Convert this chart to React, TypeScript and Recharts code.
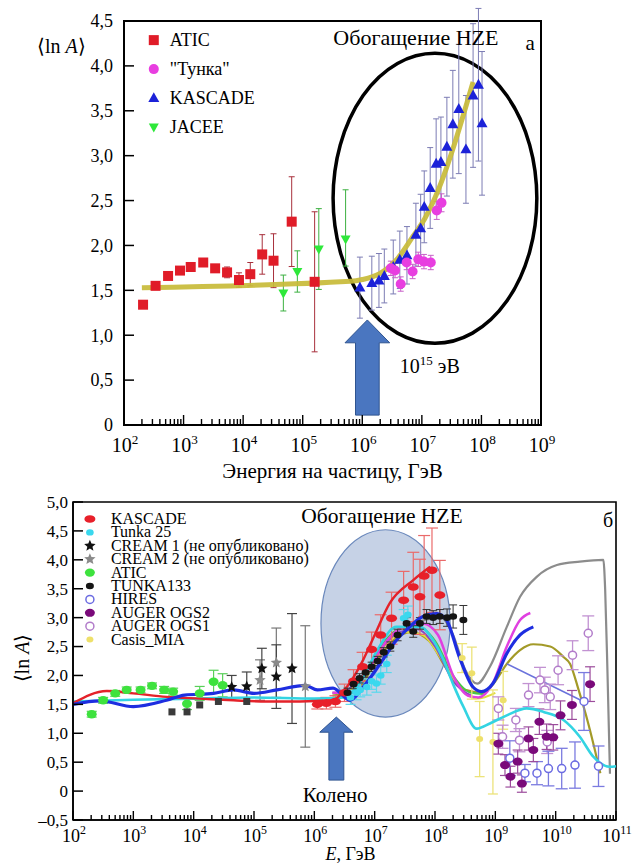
import React from 'react';
import {
  ComposedChart, Scatter, Line, XAxis, YAxis, ErrorBar, ReferenceArea, ReferenceDot,
} from 'recharts';

const SERIF = '"Liberation Serif", "Times New Roman", serif';

type Err = number | [number, number];
type Row = [number, number, Err?];

// ---------- panel а : lg(E, ГэВ), <ln A>, error ----------
const aticA: Row[] = [
  [2.32, 1.34, 0.03], [2.53, 1.55, 0.04], [2.74, 1.66, 0.03], [2.94, 1.72, 0.03],
  [3.12, 1.76, 0.03], [3.33, 1.81, 0.03], [3.53, 1.745, 0.04], [3.73, 1.7, 0.06],
  [3.93, 1.615, 0.08], [4.12, 1.68, 0.13], [4.32, 1.9, 0.22], [4.51, 1.83, 0.3],
  [4.815, 2.265, 0.5], [5.2, 1.595, 0.78],
];
const jaceeA: Row[] = [
  [4.675, 1.47, 0.2], [4.91, 1.71, 0.23], [5.27, 1.96, 0.45], [5.72, 2.07, [0.3, 0.55]],
];
const tunkaA: Row[] = [
  [6.48, 1.745, 0.08], [6.55, 1.72, 0.08], [6.645, 1.57, 0.08], [6.745, 1.81, 0.08],
  [6.845, 1.71, 0.08], [6.94, 1.845, 0.08], [7.035, 1.82, 0.08], [7.15, 1.81, 0.08],
  [7.25, 2.39, 0.1], [7.33, 2.475, 0.1],
];
const kascadeA: Row[] = [
  [5.96, 1.53, 0.34], [6.16, 1.58, 0.3], [6.28, 1.61, 0.3], [6.37, 1.66, 0.3],
  [6.52, 1.76, 0.3], [6.63, 1.84, 0.32], [6.75, 1.89, 0.32], [6.9, 2.12, 0.35],
  [6.98, 2.19, 0.38], [7.04, 2.43, 0.4], [7.14, 2.64, 0.45], [7.24, 2.91, 0.5],
  [7.32, 2.93, 0.5], [7.42, 3.1, 0.55], [7.52, 3.35, 0.6], [7.62, 3.52, 0.72],
  [7.74, 3.07, 0.6], [7.86, 3.67, 0.8], [7.95, 3.79, 0.85], [8.01, 3.36, 0.8],
];
const trendA_lgE = [2.3, 5.8, 6.0, 6.3, 6.6, 6.85, 7.05, 7.2, 7.86];
const trendA_lnA = [1.53, 1.6, 1.62, 1.69, 1.86, 2.1, 2.3, 2.5, 3.82];

// ---------- panel б ----------
const kascadeB: Row[] = [
  [6.05, 1.5, 0.08], [6.2, 1.52, 0.1], [6.35, 1.55, 0.1], [6.5, 1.7, 0.15],
  [6.65, 1.9, 0.2], [6.8, 2.15, 0.25], [6.95, 2.45, 0.3], [7.1, 2.7, 0.35],
  [7.28, 2.99, 0.45], [7.48, 3.3, 0.5], [7.64, 3.53, 0.6], [7.75, 3.36, 0.65],
  [7.82, 3.72, 0.7], [7.95, 3.82, 0.73], [8.08, 3.39, 0.6],
];
const tunka25B: Row[] = [
  [6.6, 1.62, 0.12], [6.7, 1.7, 0.12], [6.76, 1.75, 0.12], [6.87, 1.8, 0.14],
  [6.95, 1.9, 0.14], [7.03, 1.86, 0.15], [7.1, 2.0, 0.15], [7.2, 2.2, 0.15],
  [7.48, 2.99, 0.15], [7.55, 3.05, 0.15],
];
const cream1B: Row[] = [
  [4.63, 1.8, 0.2], [4.88, 1.81, 0.25], [5.13, 2.12, 0.35], [5.37, 1.98, 0.55], [5.63, 2.12, 0.95],
];
const cream2B: Row[] = [
  [5.1, 1.92, 0.35], [5.37, 2.22, 0.6], [5.85, 1.81, 1.05],
];
const directB: Row[] = [
  [3.64, 1.37, 0.04], [3.89, 1.37, 0.05], [4.1, 1.49, 0.06], [4.41, 1.55, 0.06], [4.88, 1.55, 0.06],
];
const aticB: Row[] = [
  [2.31, 1.33, 0.05], [2.5, 1.57, 0.05], [2.7, 1.69, 0.05], [2.89, 1.75, 0.05],
  [3.12, 1.75, 0.05], [3.31, 1.82, 0.05], [3.51, 1.75, 0.06], [3.66, 1.72, 0.06],
  [3.89, 1.51, 0.1], [4.1, 1.69, 0.12], [4.33, 1.89, 0.2], [4.48, 1.83, 0.2],
];
const tunka133B: Row[] = [
  [6.55, 1.7, 0.08], [6.65, 1.85, 0.08], [6.75, 1.95, 0.08], [6.85, 2.05, 0.08],
  [6.95, 2.15, 0.08], [7.05, 2.25, 0.08], [7.15, 2.4, 0.08], [7.26, 2.5, 0.08],
  [7.38, 2.7, 0.1], [7.53, 2.9, 0.1], [7.64, 2.76, 0.1], [7.75, 2.9, 0.1],
  [7.86, 3.02, 0.12], [7.97, 3.0, 0.12], [8.08, 3.02, 0.12], [8.2, 3.0, 0.15],
  [8.3, 3.02, 0.2], [8.47, 2.96, 0.25],
];
const hiresB: Row[] = [
  [9.24, 0.57, 0.3], [9.49, 0.31, 0.15], [9.69, 0.31, 0.2], [9.88, 0.39, 0.3],
  [10.1, 0.39, 0.35], [10.32, 0.45, 0.4], [10.47, 1.55, 0.5], [10.71, 0.43, 0.35],
];
const ogs2B: Row[] = [
  [9.05, 0.82, 0.18], [9.16, 0.45, 0.18], [9.25, 0.25, 0.18], [9.37, 0.51, 0.2],
  [9.44, 0.13, 0.15], [9.55, 0.91, 0.2], [9.63, 0.71, 0.2], [9.73, 1.2, 0.22],
  [9.85, 0.94, 0.22], [9.96, 0.93, 0.22], [10.08, 1.31, 0.25], [10.27, 1.49, 0.25],
  [10.57, 1.85, 0.3],
];
const ogs1B: Row[] = [
  [9.05, 1.43, 0.2], [9.12, 0.94, 0.2], [9.34, 1.23, 0.2], [9.4, 0.88, 0.2],
  [9.55, 1.66, 0.2], [9.74, 1.92, 0.22], [9.82, 1.75, 0.22], [9.91, 1.63, 0.22],
  [9.86, 0.85, 0.2], [10.04, 2.09, 0.25], [10.28, 2.35, 0.25], [10.54, 2.73, 0.3],
];
const casisB: Row[] = [
  [8.45, 2.3, 0.25], [8.61, 2.04, 0.45], [8.74, 0.9, 0.65], [8.96, 0.85, 0.9], [9.13, 1.57, 0.5],
];

const redB_lgE = [2, 2.56, 3, 3.55, 4.1, 4.66, 5.2, 5.76, 6.3, 6.5, 6.81, 7.0, 7.25, 7.64, 7.92];
const redB_lnA = [1.52, 1.73, 1.69, 1.63, 1.6, 1.57, 1.55, 1.55, 1.57, 1.75, 2.27, 2.7, 3.25, 3.65, 3.88];
const blueB_lgE = [2, 2.45, 3, 3.55, 3.85, 4.33, 4.66, 5.0, 5.38, 5.85, 6.05, 6.31, 6.59, 6.81, 7.09, 7.36, 7.53, 7.8, 8.03, 8.19, 8.41, 8.63, 8.77, 8.96, 9.19, 9.41, 9.63];
const blueB_lnA = [1.5, 1.56, 1.46, 1.57, 1.66, 1.69, 1.75, 1.69, 1.75, 1.83, 1.75, 1.78, 1.57, 1.8, 2.2, 2.61, 2.79, 3.02, 3.07, 2.96, 2.3, 1.8, 1.72, 1.86, 2.38, 2.7, 2.84];
const cyanB_lgE = [2, 3, 4, 5, 6, 6.5, 6.8, 7.05, 7.36, 7.75, 7.97, 8.14, 8.3, 8.47, 8.69, 8.91, 9.19, 9.52, 9.8, 10.13, 10.4, 10.62, 10.9, 11];
const cyanB_lnA = [1.55, 1.58, 1.6, 1.62, 1.6, 1.62, 1.95, 2.45, 2.84, 2.84, 2.61, 2.27, 1.85, 1.46, 1.08, 1.17, 1.31, 1.43, 1.37, 1.23, 0.94, 0.6, 0.42, 0.43];
const magentaB_lgE = [6.3, 6.6, 6.9, 7.2, 7.5, 7.8, 8.05, 8.3, 8.55, 8.72, 8.95, 9.19, 9.41, 9.58];
const magentaB_lnA = [1.7, 1.7, 2.1, 2.6, 2.85, 2.9, 2.7, 2.0, 1.65, 1.62, 1.85, 2.5, 2.96, 3.08];
const grayB_lgE = [6.3, 6.6, 6.9, 7.2, 7.5, 7.8, 8.1, 8.3, 8.5, 8.7, 8.91, 9.19, 9.41, 9.69, 10.02, 10.4, 10.79, 10.82, 10.86, 10.9];
const grayB_lnA = [1.7, 1.72, 2.15, 2.6, 2.85, 2.95, 3.0, 2.7, 2.1, 1.86, 2.15, 2.84, 3.36, 3.71, 3.91, 3.97, 4.0, 3.5, 2.0, 0.3];
const oliveB_lgE = [6.3, 6.7, 7.0, 7.3, 7.6, 7.9, 8.2, 8.5, 8.8, 9.0, 9.19, 9.41, 9.63, 9.91, 10.13, 10.24, 10.38, 10.54, 10.65, 10.74];
const oliveB_lnA = [1.65, 1.75, 2.2, 2.6, 2.75, 2.6, 2.1, 1.75, 1.7, 1.9, 2.2, 2.44, 2.54, 2.5, 2.32, 2.2, 1.75, 1.17, 0.71, 0.31];
const greenB_lgE = [6.4, 6.8, 7.1, 7.4, 7.7, 8.0, 8.3, 8.6, 8.8];
const greenB_lnA = [1.6, 2.0, 2.5, 2.8, 2.85, 2.6, 2.0, 1.7, 1.68];
const yellowB_lgE = [6.5, 6.9, 7.2, 7.5, 7.8, 8.1, 8.4, 8.7, 9.0];
const yellowB_lnA = [1.65, 2.1, 2.55, 2.75, 2.7, 2.3, 1.8, 1.6, 1.7];
const purpleB_lgE = [6.4, 6.8, 7.1, 7.4, 7.7, 8.0, 8.3, 8.6];
const purpleB_lnA = [1.62, 2.0, 2.45, 2.75, 2.8, 2.5, 1.9, 1.65];
const hiresFit_lgE = [9.19, 10.46];
const hiresFit_lnA = [2.2, 1.55];

const pts = (rows: Row[]) => rows.map(([x, y, err]) => ({ x, y, err: err ?? 0 }));
const curve = (xs: number[], ys: number[]) => xs.map((x, i) => ({ x, y: ys[i] }));

// lg-axis ticks: decades plus 2..9 sub-ticks
const logTicks = (from: number, to: number) => {
  const t: number[] = [];
  for (let n = from; n <= to; n++) {
    t.push(n);
    if (n < to) for (let k = 2; k <= 9; k++) t.push(n + Math.log10(k));
  }
  return t;
};
const TICKS_A_X = logTicks(2, 9);
const TICKS_B_X = logTicks(2, 11);
const TICKS_A_Y = [0, 0.5, 1, 1.5, 2, 2.5, 3, 3.5, 4, 4.5];
const TICKS_B_Y = [-0.5, 0, 0.5, 1, 1.5, 2, 2.5, 3, 3.5, 4, 4.5, 5];

const fmtY = (v: number) =>
  v === 0 ? '0' : (v < 0 ? '\u2013' : '') + Math.abs(v).toFixed(1).replace('.', ',');

// ---------- markers ----------
type P = { cx?: number; cy?: number };
const square = (fill: string, s: number) => ({ cx = 0, cy = 0 }: P) => (
  <rect x={cx - s / 2} y={cy - s / 2} width={s} height={s} fill={fill} />
);
const blob = (fill: string, rx: number, ry: number, stroke = 'none') => ({ cx = 0, cy = 0 }: P) => (
  <ellipse cx={cx} cy={cy} rx={rx} ry={ry} fill={fill} stroke={stroke} />
);
const ring = (stroke: string, r: number) => ({ cx = 0, cy = 0 }: P) => (
  <circle cx={cx} cy={cy} r={r} fill="#fff" stroke={stroke} strokeWidth={1.5} />
);
const tri = (fill: string, s: number, down = false) => ({ cx = 0, cy = 0 }: P) => {
  const d = down ? -1 : 1;
  const h = s * 0.9;
  return (
    <polygon
      points={`${cx},${cy - d * h * 0.6} ${cx - s / 2},${cy + d * h * 0.4} ${cx + s / 2},${cy + d * h * 0.4}`}
      fill={fill}
    />
  );
};
const star = (fill: string, r: number) => ({ cx = 0, cy = 0 }: P) => {
  const p: string[] = [];
  for (let i = 0; i < 10; i++) {
    const a = -Math.PI / 2 + (i * Math.PI) / 5;
    const rr = i % 2 === 0 ? r : r * 0.45;
    p.push(`${cx + rr * Math.cos(a)},${cy + rr * Math.sin(a)}`);
  }
  return <polygon points={p.join(' ')} fill={fill} />;
};

const mkAticA = square('#e01c28', 10);
const mkTunkaA = blob('#e83ee0', 5, 5);
const mkKascadeA = tri('#1c22d8', 11);
const mkJaceeA = tri('#2ee83a', 10, true);

const mkKascadeB = blob('#e8202a', 5.5, 3.8);
const mkTunka25B = blob('#3ad8ee', 3.8, 3.2);
const mkCream1B = star('#111', 6);
const mkCream2B = star('#8a8a8a', 6);
const mkAticB = blob('#3ee23e', 5, 4.2);
const mkTunka133B = blob('#151515', 4, 3.3);
const mkHiresB = ring('#6c6ce2', 4);
const mkOgs2B = blob('#7a0a7a', 5, 4);
const mkOgs1B = ring('#b27cca', 4);
const mkCasisB = blob('#eee06a', 3.5, 3);
const mkDirectB = square('#3a3a3a', 7);

const LEGEND_A = [
  { name: 'ATIC', mark: mkAticA },
  { name: '"Тунка"', mark: mkTunkaA },
  { name: 'KASCADE', mark: mkKascadeA },
  { name: 'JACEE', mark: mkJaceeA },
];
const LEGEND_B = [
  { name: 'KASCADE', mark: mkKascadeB },
  { name: 'Tunka 25', mark: mkTunka25B },
  { name: 'CREAM 1 (не опубликовано)', mark: mkCream1B },
  { name: 'CREAM 2 (не опубликовано)', mark: mkCream2B },
  { name: 'ATIC', mark: mkAticB },
  { name: 'TUNKA133', mark: mkTunka133B },
  { name: 'HIRES', mark: mkHiresB },
  { name: 'AUGER OGS2', mark: mkOgs2B },
  { name: 'AUGER OGS1', mark: mkOgs1B },
  { name: 'Casis_MIA', mark: mkCasisB },
];

// ---------- axis pieces ----------
const XTick = (props: any) => {
  const { x, y, payload, fs, base, major, minor } = props;
  const v = payload.value as number;
  const isMajor = Math.abs(v - Math.round(v)) < 1e-6;
  return (
    <g>
      <line x1={x} x2={x} y1={y} y2={y - (isMajor ? major : minor)} stroke="#000" strokeWidth={1.4} />
      {isMajor && (
        <text x={x + 1} y={y + base} textAnchor="middle" fontFamily={SERIF} fontSize={fs} fill="#000">
          10<tspan dy={-fs * 0.42} fontSize={fs * 0.66}>{Math.round(v)}</tspan>
        </text>
      )}
    </g>
  );
};

const YTick = (props: any) => {
  const { x, y, payload, fs, gap } = props;
  return (
    <g>
      <line x1={x} x2={x + 10} y1={y} y2={y} stroke="#000" strokeWidth={1.5} />
      <text x={x - gap} y={y} dy="0.35em" textAnchor="end" fontFamily={SERIF} fontSize={fs} fill="#000">
        {fmtY(payload.value)}
      </text>
    </g>
  );
};

const YLabelA = (p: any) => {
  const vb = p.viewBox || { x: 0, y: 0 };
  return (
    <text x={vb.x + 37} y={vb.y + 32} fontFamily={SERIF} fontSize={20} fill="#000">
      {'\u27E8ln '}<tspan fontStyle="italic">A</tspan>{'\u27E9'}
    </text>
  );
};

const YLabelB = (p: any) => {
  const vb = p.viewBox || { x: 0, y: 0, height: 0 };
  const cx = vb.x + 22;
  const cy = vb.y + vb.height / 2 - 3;
  return (
    <text x={cx} y={cy} dy="0.35em" textAnchor="middle" transform={`rotate(-90, ${cx}, ${cy})`}
      fontFamily={SERIF} fontSize={20} fill="#000">
      {'\u27E8ln '}<tspan fontStyle="italic">A</tspan>{'\u27E9'}
    </text>
  );
};

const XLabelB = (p: any) => {
  const vb = p.viewBox || { x: 0, y: 0, width: 0, height: 0 };
  return (
    <text x={vb.x + vb.width / 2 + 6} y={vb.y + vb.height - 3} textAnchor="middle"
      fontFamily={SERIF} fontSize={18} fill="#000">
      <tspan fontStyle="italic">E</tspan>, ГэВ
    </text>
  );
};

// ---------- annotation shapes ----------
const ellipseShape = (stroke: string, sw: number, fill: string) => (p: any) => (
  <ellipse cx={p.x + p.width / 2} cy={p.y + p.height / 2} rx={p.width / 2} ry={p.height / 2}
    fill={fill} stroke={stroke} strokeWidth={sw} />
);

const arrowShape = (shaft: number, head: number) => (p: any) => {
  const { x, y, width: w, height: h } = p;
  const cx = x + w / 2;
  const sw = (w * shaft) / 2;
  const hy = y + h * head;
  const outline = [
    [cx, y], [x + w, hy], [cx + sw, hy], [cx + sw, y + h],
    [cx - sw, y + h], [cx - sw, hy], [x, hy],
  ].map((q) => q.join(',')).join(' ');
  return <polygon points={outline} fill="#4a76c0" stroke="#2f5490" strokeWidth={1} />;
};

const textShape = (content: React.ReactNode, fs: number, anchor = 'middle') => (p: any) => (
  <text x={p.cx} y={p.cy} textAnchor={anchor} fontFamily={SERIF} fontSize={fs} fill="#000">
    {content}
  </text>
);

const legendShape = (items: typeof LEGEND_A, step: number, dx: number, dy: number, fs: number) => (p: any) => (
  <g>
    {items.map((it, i) => (
      <g key={it.name}>
        {it.mark({ cx: p.cx, cy: p.cy + i * step })}
        <text x={p.cx + dx} y={p.cy + i * step + dy} fontFamily={SERIF} fontSize={fs} fill="#000">
          {it.name}
        </text>
      </g>
    ))}
  </g>
);

const PanelA = () => (
  <ComposedChart width={632} height={490} margin={{ top: 21, right: 91, bottom: 0, left: 0 }}>
    <XAxis dataKey="x" type="number" domain={[2, 9]} allowDataOverflow ticks={TICKS_A_X} interval={0}
      tickSize={0} tickMargin={0} tickLine={false} height={65}
      axisLine={{ stroke: '#000', strokeWidth: 2 }}
      tick={(p: any) => <XTick {...p} fs={20} base={27} major={10} minor={6} />}
      label={{ value: 'Энергия на частицу, ГэВ', position: 'insideBottom', offset: 12, fontSize: 21, fill: '#000', fontFamily: SERIF }}
    />
    <YAxis dataKey="y" type="number" domain={[0, 4.5]} allowDataOverflow ticks={TICKS_A_Y} interval={0}
      tickSize={0} tickMargin={0} tickLine={false} width={124}
      axisLine={{ stroke: '#000', strokeWidth: 2 }}
      tick={(p: any) => <YTick {...p} fs={18} gap={11} />}
      label={<YLabelA />}
    />
    <ReferenceArea x1={2} x2={9} y1={0} y2={4.5} fill="none" fillOpacity={0} stroke="#000" strokeWidth={2} />
    <ReferenceArea x1={5.51} x2={8.93} y1={0.91} y2={4.14} shape={ellipseShape('#000', 3.5, 'none')} />

    <Scatter data={pts(aticA)} shape={mkAticA} isAnimationActive={false}>
      <ErrorBar dataKey="err" direction="y" width={3} stroke="#a8303c" strokeWidth={1} />
    </Scatter>
    <Scatter data={pts(jaceeA)} shape={mkJaceeA} isAnimationActive={false}>
      <ErrorBar dataKey="err" direction="y" width={3} stroke="#3cb040" strokeWidth={1} />
    </Scatter>
    <Scatter data={pts(kascadeA)} shape={mkKascadeA} isAnimationActive={false}>
      <ErrorBar dataKey="err" direction="y" width={3} stroke="#7c7cb4" strokeWidth={1} />
    </Scatter>
    <Scatter data={pts(tunkaA)} shape={mkTunkaA} isAnimationActive={false}>
      <ErrorBar dataKey="err" direction="y" width={3} stroke="#c860c8" strokeWidth={1} />
    </Scatter>
    <Line data={curve(trendA_lgE, trendA_lnA)} dataKey="y" type="monotone" stroke="#c8bb38"
      strokeWidth={5} strokeOpacity={0.92} dot={false} activeDot={false} isAnimationActive={false} />

    <ReferenceArea x1={5.71} x2={6.46} y1={0.11} y2={1.17} shape={arrowShape(0.53, 0.24)} />
    <ReferenceDot x={2.5} y={4.287} shape={legendShape(LEGEND_A, 29, 16, 6, 18)} />
    <ReferenceDot x={6.9} y={4.23} shape={textShape('Обогащение HZE', 22)} />
    <ReferenceDot x={8.82} y={4.18} shape={textShape('а', 21)} />
    <ReferenceDot x={6.63} y={0.58}
      shape={textShape(<>10<tspan dy={-8} fontSize={13}>15</tspan><tspan dy={8}> эВ</tspan></>, 20, 'start')} />
  </ComposedChart>
);

const modelLine = (xs: number[], ys: number[], color: string, w: number, type: any = 'monotone') => (
  <Line data={curve(xs, ys)} dataKey="y" type={type} stroke={color} strokeWidth={w}
    dot={false} activeDot={false} isAnimationActive={false} />
);

const PanelB = () => (
  <ComposedChart width={632} height={373} margin={{ top: 12, right: 16, bottom: 0, left: 0 }}>
    <XAxis dataKey="x" type="number" domain={[2, 11]} allowDataOverflow ticks={TICKS_B_X} interval={0}
      tickSize={0} tickMargin={0} tickLine={false} height={43}
      axisLine={{ stroke: '#000', strokeWidth: 1.6 }}
      tick={(p: any) => <XTick {...p} fs={18} base={22} major={9} minor={5} />}
      label={<XLabelB />}
    />
    <YAxis dataKey="y" type="number" domain={[-0.5, 5]} allowDataOverflow ticks={TICKS_B_Y} interval={0}
      tickSize={0} tickMargin={0} tickLine={false} width={73}
      axisLine={{ stroke: '#000', strokeWidth: 1.6 }}
      tick={(p: any) => <YTick {...p} fs={17} gap={5} />}
      label={<YLabelB />}
    />
    <ReferenceArea x1={2} x2={11} y1={-0.5} y2={5} fill="none" fillOpacity={0} stroke="#000" strokeWidth={1.6} />
    <ReferenceArea x1={6.11} x2={8.25} y1={1.28} y2={4.52}
      shape={ellipseShape('#6a88bc', 1.2, 'rgba(141,165,205,0.5)')} />

    {modelLine(grayB_lgE, grayB_lnA, '#8c8c8c', 2.2)}
    {modelLine(oliveB_lgE, oliveB_lnA, '#a39a28', 2.2)}
    {modelLine(greenB_lgE, greenB_lnA, '#46c846', 2)}
    {modelLine(yellowB_lgE, yellowB_lnA, '#e2dc40', 2)}
    {modelLine(purpleB_lgE, purpleB_lnA, '#8a4ac0', 2)}
    {modelLine(magentaB_lgE, magentaB_lnA, '#e040e0', 2.5)}
    {modelLine(hiresFit_lgE, hiresFit_lnA, '#6a72dc', 1.6, 'linear')}

    <Scatter data={pts(casisB)} shape={mkCasisB} isAnimationActive={false}>
      <ErrorBar dataKey="err" direction="y" width={5} stroke="#ece37a" strokeWidth={1.3} />
    </Scatter>
    <Scatter data={pts(ogs1B)} shape={mkOgs1B} isAnimationActive={false}>
      <ErrorBar dataKey="err" direction="y" width={6} stroke="#c292d2" strokeWidth={1.3} />
    </Scatter>
    <Scatter data={pts(hiresB)} shape={mkHiresB} isAnimationActive={false}>
      <ErrorBar dataKey="err" direction="y" width={6} stroke="#7b7be0" strokeWidth={1.3} />
    </Scatter>
    <Scatter data={pts(ogs2B)} shape={mkOgs2B} isAnimationActive={false}>
      <ErrorBar dataKey="err" direction="y" width={5} stroke="#9c4c9c" strokeWidth={1.2} />
    </Scatter>
    <Scatter data={pts(cream2B)} shape={mkCream2B} isAnimationActive={false}>
      <ErrorBar dataKey="err" direction="y" width={5} stroke="#777" strokeWidth={1.2} />
    </Scatter>
    <Scatter data={pts(cream1B)} shape={mkCream1B} isAnimationActive={false}>
      <ErrorBar dataKey="err" direction="y" width={5} stroke="#444" strokeWidth={1.2} />
    </Scatter>
    <Scatter data={pts(directB)} shape={mkDirectB} isAnimationActive={false} />
    <Scatter data={pts(aticB)} shape={mkAticB} isAnimationActive={false}>
      <ErrorBar dataKey="err" direction="y" width={5} stroke="#5ad05a" strokeWidth={1.2} />
    </Scatter>
    <Scatter data={pts(kascadeB)} shape={mkKascadeB} isAnimationActive={false}>
      <ErrorBar dataKey="err" direction="y" width={6} stroke="#ea6a6a" strokeWidth={1.2} />
    </Scatter>
    <Scatter data={pts(tunka25B)} shape={mkTunka25B} isAnimationActive={false}>
      <ErrorBar dataKey="err" direction="y" width={5} stroke="#5ad8ec" strokeWidth={1.2} />
    </Scatter>

    {modelLine(cyanB_lgE, cyanB_lnA, '#33d4e2', 2.6)}
    {modelLine(redB_lgE, redB_lnA, '#e4222a', 2.4)}

    <Scatter data={pts(tunka133B)} shape={mkTunka133B} isAnimationActive={false}>
      <ErrorBar dataKey="err" direction="y" width={4} stroke="#333" strokeWidth={1} />
    </Scatter>
    {modelLine(blueB_lgE, blueB_lnA, '#1e2ee0', 3.2)}

    <ReferenceArea x1={6.09} x2={6.64} y1={0.19} y2={1.28} shape={arrowShape(0.45, 0.24)} />
    <ReferenceDot x={2.28} y={4.706} shape={legendShape(LEGEND_B, 13.4, 21, 5, 16)} />
    <ReferenceDot x={7.12} y={4.64} shape={textShape('Обогащение HZE', 21.5)} />
    <ReferenceDot x={10.87} y={4.57} shape={textShape('б', 20)} />
    <ReferenceDot x={5.81} y={-0.19} shape={textShape('Колено', 21, 'start')} />
  </ComposedChart>
);

export default function App() {
  return (
    <div style={{ position: 'absolute', left: 0, top: 0, width: 632, height: 863, background: '#fff', fontFamily: SERIF }}>
      <div style={{ position: 'absolute', left: 0, top: 0 }}>
        <PanelA />
      </div>
      <div style={{ position: 'absolute', left: 0, top: 490 }}>
        <PanelB />
      </div>
    </div>
  );
}
